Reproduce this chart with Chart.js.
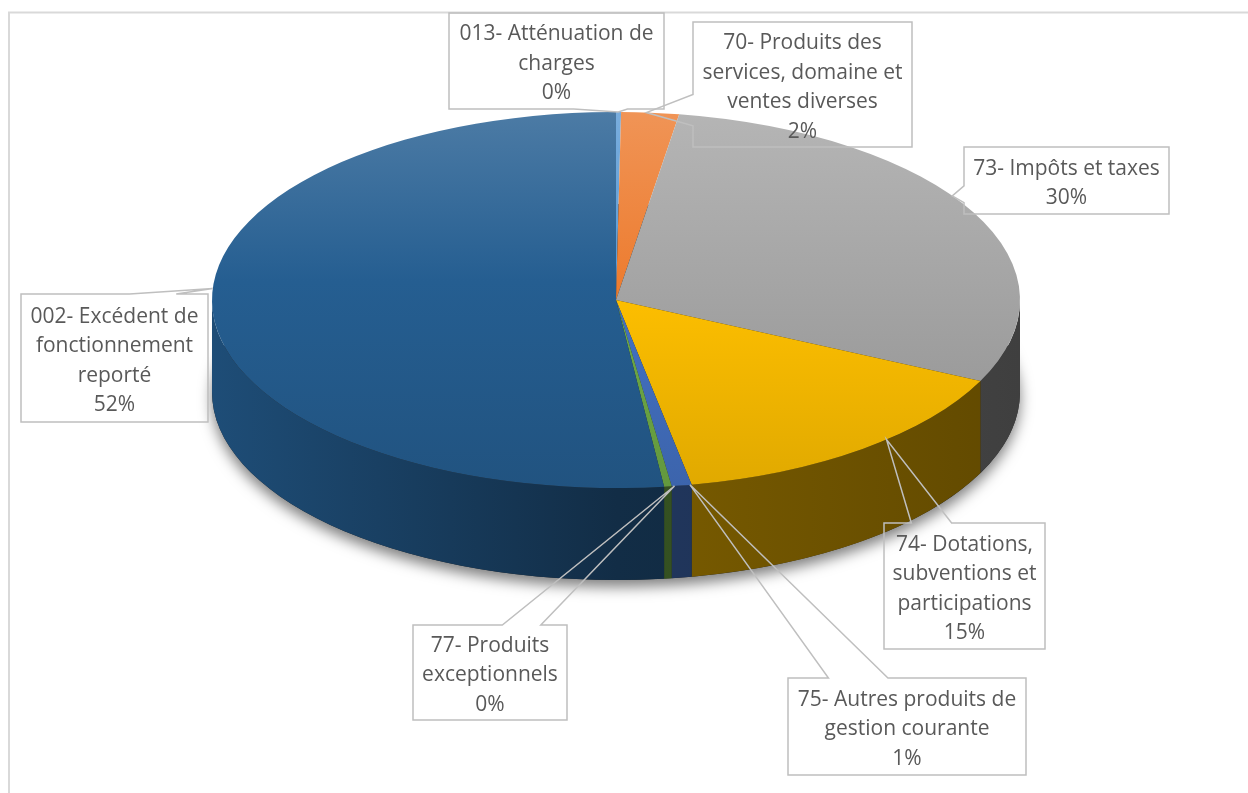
<!DOCTYPE html>
<html>
<head>
<meta charset="utf-8">
<script src="https://cdn.jsdelivr.net/npm/chart.js@4.4.1/dist/chart.umd.min.js"></script>
<style>
  body { margin: 0; background: #fff; }
  #wrap { width: 1248px; height: 793px; }
</style>
</head>
<body>
<div id="wrap"><canvas id="pie" width="1248" height="793"></canvas></div>
<script>
const categories = [
  "013- Atténuation de charges",
  "70- Produits des services, domaine et ventes diverses",
  "73- Impôts et taxes",
  "74- Dotations, subventions et participations",
  "75- Autres produits de gestion courante",
  "77- Produits exceptionnels",
  "002- Excédent de fonctionnement reporté"
];
const shares = [0.2, 2.3, 29.6, 14.9, 0.8, 0.3, 51.9];
const colors = ['#5B9BD5', '#ED7D31', '#A5A5A5', '#FFC000', '#4472C4', '#70AD47', '#255E91'];
// how excel wrapped each label
const wrapped = [
  ["013- Atténuation de", "charges"],
  ["70- Produits des", "services, domaine et", "ventes diverses"],
  ["73- Impôts et taxes"],
  ["74- Dotations,", "subventions et", "participations"],
  ["75- Autres produits de", "gestion courante"],
  ["77- Produits", "exceptionnels"],
  ["002- Excédent de", "fonctionnement", "reporté"]
];

// 3d look
const ECX = 616, ECY = 300, RX = 404, RY = 188, DEPTH = 92;
const TILT = -0.12;
const FONT = '21px "Open Sans"';
const LH = 29.5;

// callout boxes x, y, w, h
const boxes = [
  [449, 13, 215, 96],
  [693, 22, 219, 125],
  [964, 147, 205, 67],
  [884, 523, 161, 126],
  [788, 678, 238, 97],
  [413, 625, 154, 95],
  [21, 294, 187, 128]
];

function shade(hex, f) {
  let n = parseInt(hex.slice(1), 16);
  let c = [(n >> 16) & 255, (n >> 8) & 255, n & 255];
  c = c.map(v => f <= 1 ? v * f : v + (255 - v) * (f - 1));
  return 'rgb(' + c.map(v => Math.round(v)).join(',') + ')';
}

function rimFill(ctx, col) {
  let g = ctx.createLinearGradient(ECX - RX, 0, ECX + RX, 0);
  g.addColorStop(0, shade(col, 0.82));
  g.addColorStop(0.5, shade(col, 0.48));
  g.addColorStop(1, shade(col, 0.38));
  return g;
}

function anchorOf(arc) {
  let mid = (arc.startAngle + arc.endAngle) / 2;
  let c = Math.cos(mid), s = Math.sin(mid);
  let d = 1 + TILT * s;
  let u = c * Math.sqrt(1 - TILT * TILT) / d;
  let v = (s + TILT) / d;
  return { x: ECX + RX * u, y: ECY + RY * v };
}

function calloutPoints(b, p) {
  const [x, y, w, h] = b;
  let pts = [[x, y], [x + w, y], [x + w, y + h], [x, y + h]];
  let edge = -1;
  if (p.y < y) edge = 0;
  else if (p.y > y + h) edge = 2;
  else if (p.x < x) edge = 3;
  else if (p.x > x + w) edge = 1;
  if (edge < 0) return pts;
  let horiz = edge % 2 === 0;
  let along = horiz ? (p.x - x) / w : (p.y - y) / h;
  let f = along > 0.5 ? [0.58, 0.83] : [0.17, 0.42];
  let at = t => horiz ? [x + w * t, edge === 0 ? y : y + h] : [edge === 3 ? x : x + w, y + h * t];
  let q1 = at(f[0]), q2 = at(f[1]);
  if (edge >= 2) [q1, q2] = [q2, q1];
  pts.splice(edge + 1, 0, q1, [p.x, p.y], q2);
  return pts;
}

const total = shares.reduce((a, b) => a + b, 0);

function drawCallouts(chart) {
  const ctx = chart.ctx;
  const arcs = chart.getDatasetMeta(0).data;
  ctx.save();
  arcs.forEach((arc, i) => {
    let p = anchorOf(arc);
    let pts = calloutPoints(boxes[i], p);
    ctx.beginPath();
    pts.forEach((q, k) => k ? ctx.lineTo(q[0], q[1]) : ctx.moveTo(q[0], q[1]));
    ctx.closePath();
    ctx.strokeStyle = '#BFBFBF';
    ctx.lineWidth = 1.5;
    ctx.lineJoin = 'miter';
    ctx.stroke();

    let lines = wrapped[i].concat([Math.round(shares[i] / total * 100) + '%']);
    let [x, y, w, h] = boxes[i];
    let cx = x + w / 2, cy = y + h / 2 + 3;
    ctx.fillStyle = '#595959';
    ctx.font = FONT;
    ctx.textAlign = 'center';
    ctx.textBaseline = 'middle';
    lines.forEach((t, k) => ctx.fillText(t, cx, cy + (k - (lines.length - 1) / 2) * LH));
  });
  ctx.restore();
}

const pie3d = {
  id: 'pie3d',
  beforeDraw(chart) {
    const ctx = chart.ctx;
    ctx.save();
    ctx.strokeStyle = '#D9D9D9';
    ctx.lineWidth = 2;
    ctx.strokeRect(9, 12.5, 1260, 820);
    ctx.restore();
  },
  beforeDatasetsDraw(chart) {
    const ctx = chart.ctx;
    const arcs = chart.getDatasetMeta(0).data;
    // soft shadow under the pie
    ctx.save();
    ctx.shadowColor = 'rgba(0,0,0,0.5)';
    ctx.shadowBlur = 14;
    ctx.shadowOffsetY = 7;
    ctx.fillStyle = '#222';
    ctx.beginPath();
    ctx.ellipse(ECX, ECY + DEPTH, RX, RY, 0, 0, Math.PI * 2);
    ctx.fill();
    ctx.restore();
    // front rim of each slice
    arcs.forEach((arc, i) => {
      for (let n = -1; n <= 1; n++) {
        let s = Math.max(arc.startAngle, n * 2 * Math.PI);
        let e = Math.min(arc.endAngle, n * 2 * Math.PI + Math.PI);
        if (e <= s) continue;
        ctx.beginPath();
        ctx.ellipse(ECX, ECY, RX, RY, 0, s, e, false);
        ctx.ellipse(ECX, ECY + DEPTH, RX, RY, 0, e, s, true);
        ctx.closePath();
        ctx.fillStyle = rimFill(ctx, colors[i]);
        ctx.fill();
      }
    });
    // squash the top face into an ellipse
    const a0 = arcs[0];
    ctx.save();
    ctx.translate(ECX, ECY);
    ctx.scale(1, RY / RX);
    ctx.translate(-a0.x, -a0.y);
  },
  afterDatasetsDraw(chart) {
    chart.ctx.restore();
    drawCallouts(chart);
  }
};

let graf = new Chart(
  document.getElementById('pie'),
  {
    type: 'pie',
    plugins: [pie3d],
    options: {
      animation: false,
      responsive: false,
      events: [],
      layout: { padding: 0 },
      plugins: {
        legend: { display: false },
        tooltip: { enabled: false }
      }
    },
    data: {
      labels: categories,
      datasets: [
        {
          data: shares,
          radius: RX,
          clip: false,
          borderWidth: 0,
          backgroundColor: (c) => {
            let col = colors[c.dataIndex];
            let area = c.chart.chartArea;
            if (!area) return col;
            let cy = (area.top + area.bottom) / 2;
            let g = c.chart.ctx.createLinearGradient(0, cy - RX, 0, cy + RX);
            g.addColorStop(0, shade(col, 1.18));
            g.addColorStop(0.45, col);
            g.addColorStop(1, shade(col, 0.88));
            return g;
          }
        }
      ]
    }
  }
);
</script>
</body>
</html>
